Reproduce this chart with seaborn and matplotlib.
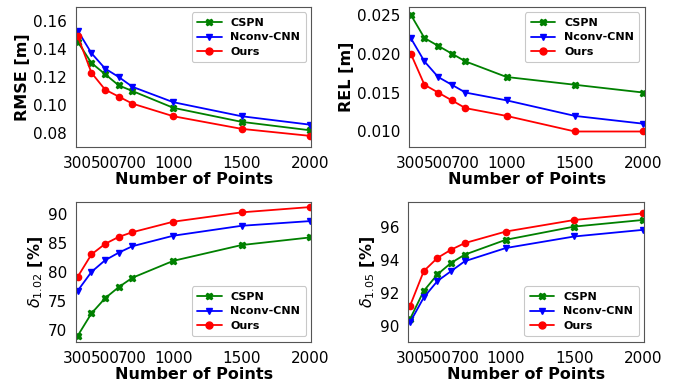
import pandas as pd
import matplotlib
matplotlib.use("Agg")
import matplotlib.pyplot as plt
import seaborn as sns

# Number of sampled points
points = [300, 400, 500, 600, 700, 1000, 1500, 2000]
xtick_labels = [300, 500, 700, 1000, 1500, 2000]
methods = ["CSPN", "Nconv-CNN", "Ours"]

rmse_cspn = [0.145, 0.130, 0.122, 0.114, 0.110, 0.098, 0.088, 0.082]
rmse_nconv = [0.153, 0.137, 0.126, 0.120, 0.113, 0.102, 0.092, 0.086]
rmse_ours = [0.149, 0.123, 0.111, 0.106, 0.101, 0.092, 0.083, 0.078]

rel_cspn = [0.025, 0.022, 0.021, 0.020, 0.019, 0.017, 0.016, 0.015]
rel_nconv = [0.022, 0.019, 0.017, 0.016, 0.015, 0.014, 0.012, 0.011]
rel_ours = [0.020, 0.016, 0.015, 0.014, 0.013, 0.012, 0.010, 0.010]

d102_cspn = [69.1, 72.9, 75.5, 77.4, 79.0, 81.9, 84.6, 85.9]
d102_nconv = [76.8, 80.0, 82.0, 83.3, 84.4, 86.2, 87.9, 88.7]
d102_ours = [79.2, 83.0, 84.8, 86.0, 86.8, 88.6, 90.2, 91.1]

d105_cspn = [90.4, 92.1, 93.1, 93.8, 94.3, 95.2, 96.0, 96.4]
d105_nconv = [90.2, 91.7, 92.7, 93.3, 93.9, 94.7, 95.4, 95.8]
d105_ours = [91.2, 93.3, 94.1, 94.6, 95.0, 95.7, 96.4, 96.8]

colors = {"CSPN": "green", "Nconv-CNN": "blue", "Ours": "red"}
markers = {"CSPN": "X", "Nconv-CNN": "v", "Ours": "o"}

sns.set_style("white")
plt.rcParams["font.family"] = ["DejaVu Sans"]
plt.rcParams["text.color"] = "black"
plt.rcParams["axes.labelcolor"] = "black"
plt.rcParams["xtick.color"] = "black"
plt.rcParams["ytick.color"] = "black"


def make_long(series):
    """Build a long dataframe from three series."""
    rows = []
    for name, vals in zip(methods, series):
        for p, v in zip(points, vals):
            rows.append({"points": p, "value": v, "method": name})
    return pd.DataFrame(rows)


def draw_panel(ax, series, ylabel, ylim, yticks, legend_loc):
    df = make_long(series)
    sns.lineplot(data=df, x="points", y="value", hue="method", style="method",
                 palette=colors, markers=markers, dashes=False, ax=ax,
                 markersize=4.5, markeredgewidth=1, linewidth=1.3)
    # same edge colour as the line, like plain matplotlib
    for line in ax.lines:
        line.set_markeredgecolor(line.get_color())
    ax.set_xlim(288, 2012)
    ax.set_ylim(*ylim)
    ax.set_xticks(xtick_labels)
    ax.set_yticks(yticks)
    ax.tick_params(labelsize=11, length=3, color="#444444")
    ax.set_xlabel("Number of Points", fontsize=11.5, fontweight="bold", labelpad=1)
    ax.set_ylabel(ylabel, fontsize=11.5, fontweight="bold", labelpad=2)
    for s in ax.spines.values():
        s.set_color("#555555")
    leg = ax.legend(loc=legend_loc, prop={"weight": "bold", "size": 8},
                    edgecolor="#bbbbbb", borderpad=0.5, handlelength=2.2,
                    labelspacing=0.4)
    leg.get_frame().set_linewidth(0.8)
    for h in leg.get_lines():
        h.set_markeredgecolor(h.get_color())
        h.set_markersize(5)


fig = plt.figure(figsize=(6.74, 3.83), dpi=100)
ax1 = fig.add_axes([0.113, 0.616, 0.349, 0.366])
ax2 = fig.add_axes([0.607, 0.616, 0.350, 0.366])
ax3 = fig.add_axes([0.113, 0.107, 0.349, 0.366])
ax4 = fig.add_axes([0.606, 0.107, 0.350, 0.366])

draw_panel(ax1, [rmse_cspn, rmse_nconv, rmse_ours], "RMSE [m]",
           (0.07, 0.17), [0.08, 0.10, 0.12, 0.14, 0.16], "upper right")
draw_panel(ax2, [rel_cspn, rel_nconv, rel_ours], "REL [m]",
           (0.008, 0.026), [0.010, 0.015, 0.020, 0.025], "upper right")
draw_panel(ax3, [d102_cspn, d102_nconv, d102_ours], r"$\delta_{1.02}$ [%]",
           (68, 92), [70, 75, 80, 85, 90], "lower right")
draw_panel(ax4, [d105_cspn, d105_nconv, d105_ours], r"$\delta_{1.05}$ [%]",
           (89, 97.5), [90, 92, 94, 96], "lower right")

ax1.yaxis.set_major_formatter(matplotlib.ticker.FormatStrFormatter("%.2f"))
ax2.yaxis.set_major_formatter(matplotlib.ticker.FormatStrFormatter("%.3f"))

fig.savefig("out.png", dpi=100)
